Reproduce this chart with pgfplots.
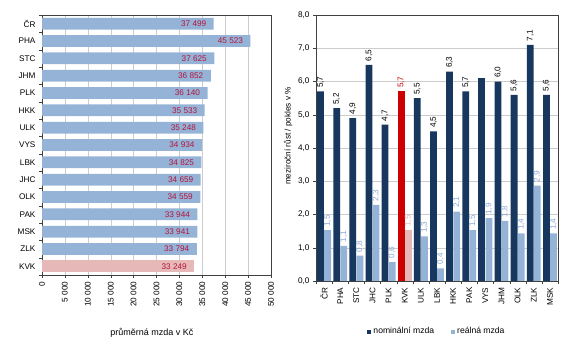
\documentclass[border=0pt]{standalone}
\usepackage{pgfplots}
\pgfplotsset{compat=1.18}
\usepackage{fontspec}
\setmainfont{Liberation Sans}
\definecolor{navy}{HTML}{17375E}
\definecolor{lblue}{HTML}{95B3D7}
\definecolor{lbluetxt}{HTML}{8AA9D3}
\definecolor{kvkred}{HTML}{CC0000}
\definecolor{kvkpink}{HTML}{E6B9B8}
\definecolor{lblred}{HTML}{B4143C}
\definecolor{gridc}{HTML}{CCCCCC}
\definecolor{axc}{HTML}{404040}
\pgfplotsset{/pgf/number format/assume math mode=true}
\begin{document}
\begin{tikzpicture}[font=\fontsize{8.2}{9.5}\selectfont]
\useasboundingbox (0,0) rectangle (567pt,361pt);
% ---------------- left chart ----------------
\begin{axis}[
  at={(42pt,86pt)}, anchor=south west, scale only axis,
  width=229pt, height=260pt,
  xbar, bar width=0.68,
  xmin=0, xmax=50000,
  ymin=-0.5, ymax=14.5, y dir=reverse,
  ytick={0,...,14},
  yticklabels={ČR,PHA,STC,JHM,PLK,HKK,ULK,VYS,LBK,JHC,OLK,PAK,MSK,ZLK,KVK},
  minor ytick={-0.5,0.5,...,14.5},
  xtick={0,5000,...,50000},
  minor xtick={0,5000,...,50000},
  major tick length=0pt, minor tick length=3pt,
  tick align=outside, tick pos=left,
  tick style={axc},
  axis line style={axc},
  scaled x ticks=false,
  xmajorgrids, major grid style={gridc},
  x tick label style={rotate=90, anchor=east},
  xticklabel shift=3pt,
  yticklabel shift=3pt,
  /pgf/number format/.cd, fixed, precision=0, 1000 sep={\ },
  /pgfplots/.cd,
  xlabel={průměrná mzda v Kč},
  xlabel style={at={(axis description cs:0.48,-0.223)}, anchor=center, font=\fontsize{9}{10}\selectfont},
]
\addplot[draw=none, fill=lblue, bar shift=0,
  nodes near coords, point meta=x,
  every node near coord/.append style={anchor=east, xshift=-4pt, text=lblred}]
  coordinates {(37499,0) (45523,1) (37625,2) (36852,3) (36140,4) (35533,5)
    (35248,6) (34934,7) (34825,8) (34659,9) (34559,10) (33944,11) (33941,12) (33794,13)};
\addplot[draw=none, fill=kvkpink, bar shift=0,
  nodes near coords, point meta=x,
  every node near coord/.append style={anchor=east, xshift=-4pt, text=lblred}]
  coordinates {(33249,14)};
\end{axis}
% ---------------- right chart ----------------
\begin{axis}[
  at={(316pt,80pt)}, anchor=south west, scale only axis,
  width=242pt, height=266pt,
  ybar, bar width=0.42,
  xmin=-0.5, xmax=14.5, ymin=0, ymax=8,
  xtick={0,...,14},
  xticklabels={ČR,PHA,STC,JHC,PLK,KVK,ULK,LBK,HKK,PAK,VYS,JHM,OLK,ZLK,MSK},
  minor xtick={-0.5,0.5,...,14.5},
  ytick={0,1,...,8}, minor ytick={0,1,...,8},
  major tick length=0pt, minor tick length=3pt,
  tick align=outside, tick pos=left,
  tick style={axc},
  axis line style={axc},
  ymajorgrids, major grid style={gridc},
  x tick label style={rotate=90, anchor=east},
  xticklabel shift=3pt,
  yticklabel shift=3pt,
  /pgf/number format/.cd, fixed, fixed zerofill, precision=1, use comma,
  /pgfplots/.cd,
  ylabel={meziroční růst / pokles v \%},
  ylabel style={yshift=-1pt, xshift=12pt},
  legend style={at={(0.5,-0.19)}, anchor=center, draw=none, fill=none,
    legend columns=2, font=\fontsize{8.6}{10}\selectfont,
    /tikz/every even column/.style={column sep=15pt}},
  legend image code/.code={\fill[#1] (0pt,-2pt) rectangle (4pt,2pt);},
]
\addplot[draw=none, fill=navy, bar shift=-0.22,
  nodes near coords,
  every node near coord/.append style={rotate=90, anchor=west, text=black}]
  coordinates {(0,5.7) (1,5.2) (2,4.9) (3,6.5) (4,4.7) (6,5.5) (7,4.5)
    (8,6.3) (9,5.7) (11,6.0) (12,5.6) (13,7.1) (14,5.6)};
\addlegendentry{nominální mzda}
\addplot[draw=none, fill=lblue, bar shift=0.22,
  nodes near coords,
  every node near coord/.append style={rotate=90, anchor=west, text=lbluetxt}]
  coordinates {(0,1.53) (1,1.06) (2,0.76) (3,2.29) (4,0.57) (6,1.34) (7,0.38)
    (8,2.09) (9,1.53) (10,1.89) (11,1.81) (12,1.43) (13,2.87) (14,1.43)};
\addlegendentry{reálná mzda}
\addplot[draw=none, fill=navy, bar shift=-0.22, forget plot,
  nodes near coords,
  every node near coord/.append style={rotate=90, anchor=east, text=navy}]
  coordinates {(10,6.1)};
\addplot[draw=none, fill=kvkred, bar shift=-0.22, forget plot,
  nodes near coords,
  every node near coord/.append style={rotate=90, anchor=west, text=kvkred}]
  coordinates {(5,5.7)};
\addplot[draw=none, fill=kvkpink, bar shift=0.22, forget plot,
  nodes near coords,
  every node near coord/.append style={rotate=90, anchor=west, text=kvkpink}]
  coordinates {(5,1.53)};
\end{axis}
\end{tikzpicture}
\end{document}
